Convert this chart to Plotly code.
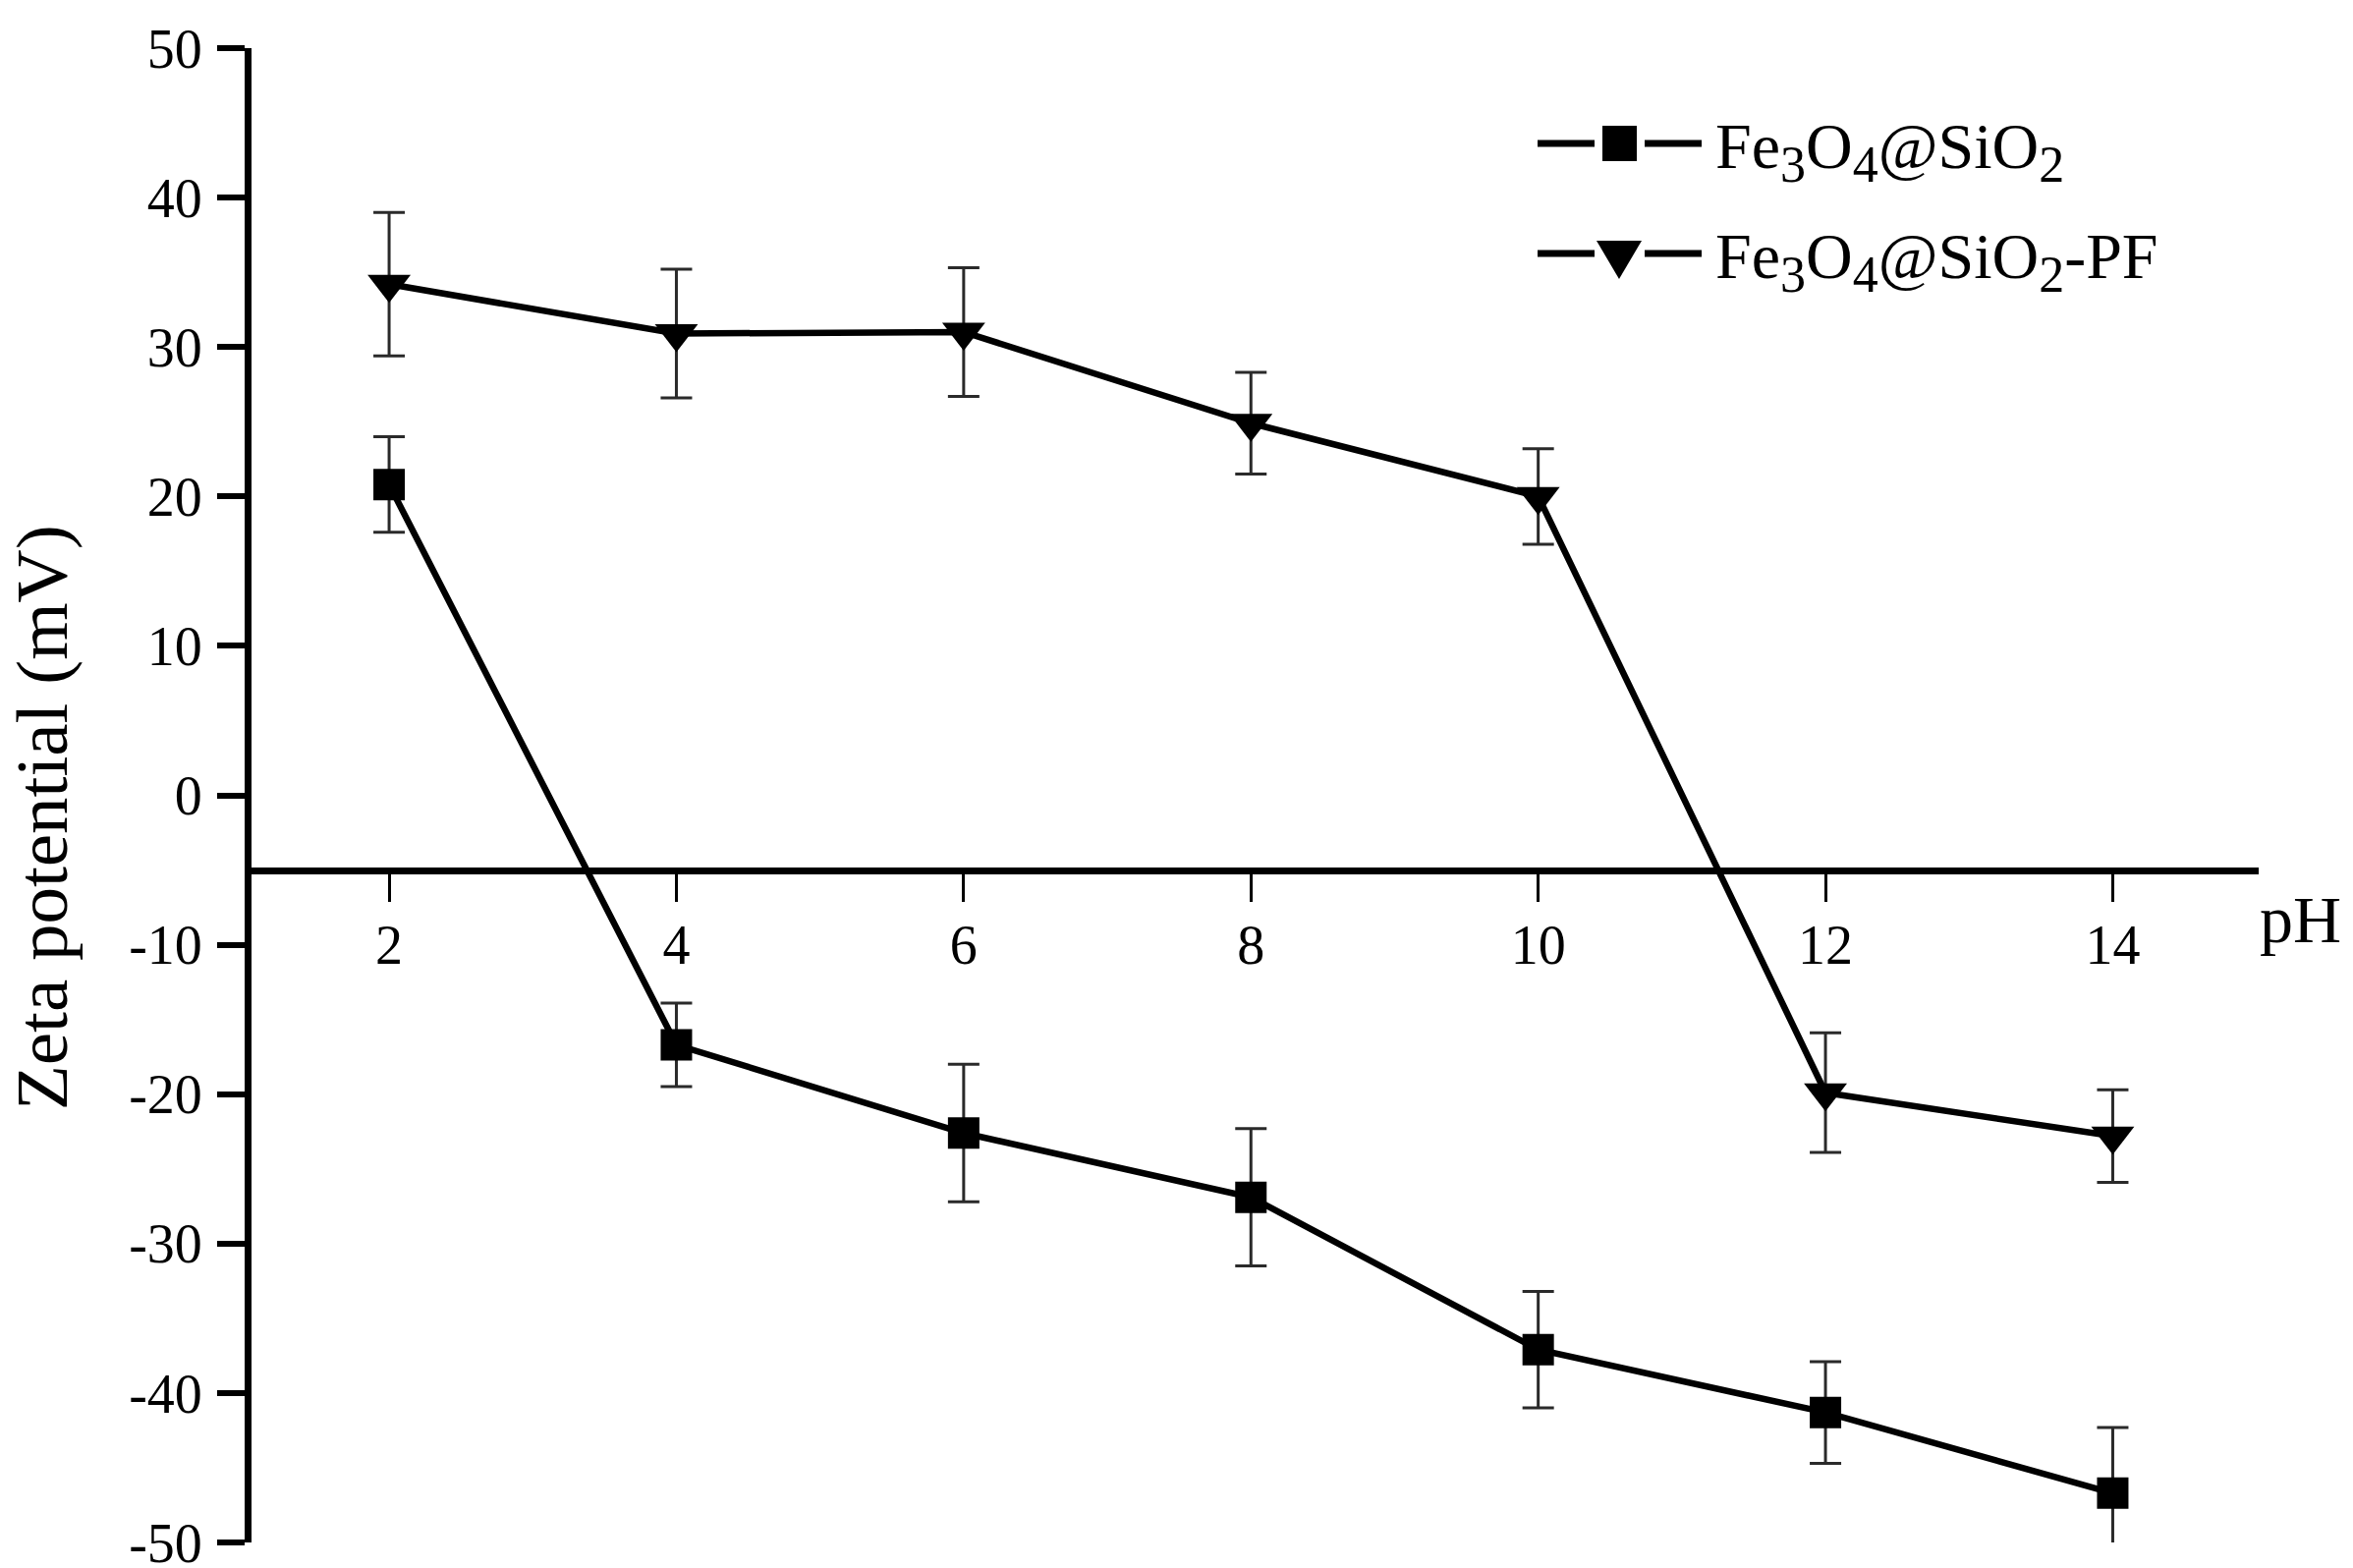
import plotly.graph_objects as go

# ---------------- data ----------------
ph = [2, 4, 6, 8, 10, 12, 14]
fe3o4_sio2 = [20.8, -16.7, -22.6, -26.9, -37.1, -41.3, -46.7]
fe3o4_sio2_err = [3.2, 2.8, 4.6, 4.6, 3.9, 3.4, 4.4]
fe3o4_sio2_pf = [34.2, 30.9, 31.0, 24.9, 20.0, -19.9, -22.8]
fe3o4_sio2_pf_err = [4.8, 4.3, 4.3, 3.4, 3.2, 4.0, 3.1]

SUB = "<sub><span style='font-size:52px'>{}</span></sub>"
series_names = ["Fe" + SUB.format(3) + "O" + SUB.format(4) + "@SiO" + SUB.format(2),
                "Fe" + SUB.format(3) + "O" + SUB.format(4) + "@SiO" + SUB.format(2) + "-PF"]
x_tick_vals = [2, 4, 6, 8, 10, 12, 14]
y_tick_vals = [-50, -40, -30, -20, -10, 0, 10, 20, 30, 40, 50]
y_tick_text = ["-50", "-40", "-30", "-20", "-10", "0", "10", "20", "30", "40", "50"]
x_axis_cross = -5
y_title = "Zeta potential (mV)"
x_title = "pH"

# ---------------- layout geometry ----------------
W_PX, H_PX = 2395, 1596
L, T, R, B = 256, 49, 96, 26
PW, PH = W_PX - L - R, H_PX - T - B
Y_RANGE = [-50, 50]
X_RANGE = [1.042, 15.016]

def pxx(x):
    return (x - L) / PW

def pxy(y):
    return (T + PH - y) / PH

FONT = "Liberation Serif"

fig = go.Figure()

fig.add_trace(go.Scatter(
    x=ph, y=fe3o4_sio2, mode="lines+markers", name="Fe3O4@SiO2",
    line=dict(color="black", width=6.5),
    marker=dict(symbol="square", size=32, color="black"),
    error_y=dict(type="data", array=fe3o4_sio2_err, visible=True,
                 color="#2a2a2a", thickness=3, width=16),
    showlegend=False,
))
fig.add_trace(go.Scatter(
    x=ph, y=fe3o4_sio2_pf, mode="lines+markers", name="Fe3O4@SiO2-PF",
    line=dict(color="black", width=6.5),
    marker=dict(symbol="triangle-down", size=38, color="black"),
    error_y=dict(type="data", array=fe3o4_sio2_pf_err, visible=True,
                 color="#2a2a2a", thickness=3, width=16),
    showlegend=False,
))

cross_pos = (x_axis_cross - Y_RANGE[0]) / (Y_RANGE[1] - Y_RANGE[0])

fig.update_layout(
    width=W_PX, height=H_PX,
    margin=dict(l=L, r=R, t=T, b=B, pad=0, autoexpand=False),
    paper_bgcolor="white", plot_bgcolor="white",
    font=dict(family=FONT, color="black"),
    showlegend=False,
    xaxis=dict(
        range=X_RANGE, tickvals=x_tick_vals, ticks="outside", ticklen=28,
        tickwidth=3, tickcolor="black", showline=True, linewidth=7,
        linecolor="black", showgrid=False, zeroline=False,
        anchor="free", position=cross_pos, automargin=False,
        tickfont=dict(family=FONT, size=56, color="black"),
        ticklabelstandoff=-4, ticklabeloverflow="allow",
    ),
    yaxis=dict(
        range=Y_RANGE, tickvals=y_tick_vals, ticktext=y_tick_text,
        ticks="outside", ticklen=28, tickwidth=6, tickcolor="black",
        showline=True, linewidth=7, linecolor="black", showgrid=False,
        zeroline=False, automargin=False,
        tickfont=dict(family=FONT, size=56, color="black"),
        ticklabelstandoff=4, ticklabeloverflow="allow",
    ),
)

shapes = []
annotations = []

# custom legend
legend_rows = [146, 258]
seg_l = (1565, 1623)
seg_r = (1674, 1732)
for i, cy in enumerate(legend_rows):
    for (a, b) in (seg_l, seg_r):
        shapes.append(dict(type="line", xref="paper", yref="paper",
                           x0=pxx(a), x1=pxx(b), y0=pxy(cy), y1=pxy(cy),
                           line=dict(color="black", width=7)))
    if i == 0:
        shapes.append(dict(type="rect", xref="paper", yref="paper",
                           x0=pxx(1631), x1=pxx(1666), y0=pxy(cy - 18), y1=pxy(cy + 18),
                           fillcolor="black", line=dict(width=0)))
    else:
        path = "M {} {} L {} {} L {} {} Z".format(
            pxx(1625), pxy(cy - 13), pxx(1671), pxy(cy - 13), pxx(1648), pxy(cy + 26))
        shapes.append(dict(type="path", xref="paper", yref="paper", path=path,
                           fillcolor="black", line=dict(width=0)))
    annotations.append(dict(xref="paper", yref="paper", x=pxx(1744), y=pxy(cy + 8),
                            xanchor="left", yanchor="middle", showarrow=False,
                            text=series_names[i],
                            font=dict(family=FONT, size=66, color="black")))

# y-axis title
annotations.append(dict(xref="paper", yref="paper", x=pxx(42), y=pxy(832),
                        xanchor="center", yanchor="middle", showarrow=False,
                        text=y_title, textangle=-90,
                        font=dict(family=FONT, size=75, color="black")))
# pH label
annotations.append(dict(xref="paper", yref="paper", x=pxx(2298), y=pxy(936),
                        xanchor="left", yanchor="middle", showarrow=False,
                        text=x_title,
                        font=dict(family=FONT, size=68, color="black")))

fig.update_layout(shapes=shapes, annotations=annotations)

fig.write_html("out.html",
               config={"displayModeBar": False},
               post_script="document.body.style.margin='0';document.body.style.padding='0';")
